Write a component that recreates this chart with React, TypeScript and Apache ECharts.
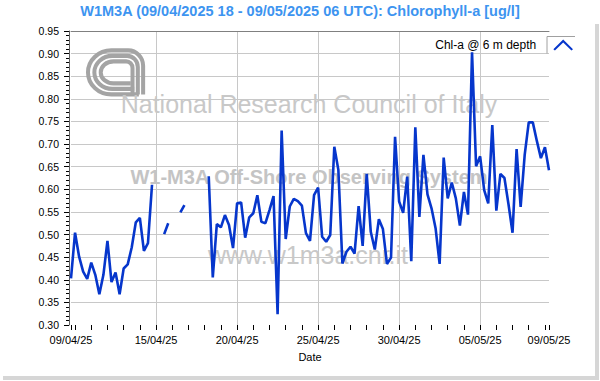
import React, { useEffect, useRef } from 'react';
import * as echarts from 'echarts';

const TITLE = 'W1M3A (09/04/2025 18 - 09/05/2025 06 UTC): Chlorophyll-a [ug/l]';
const SERIES_NAME = 'Chl-a @ 6 m depth';
const X_NAME = 'Date';

// Sampling: every 6 hours starting 09/04/2025 18:00 UTC
const START_UTC = Date.UTC(2025, 3, 9, 18);
const STEP_HOURS = 6;

// Chlorophyll-a values [ug/l] (null = no data)
const chlA: (number | null)[] = [
  0.403, 0.504, 0.451, 0.418, 0.402, 0.438, 0.411, 0.368, 0.411, 0.486,
  0.395, 0.416, 0.368, 0.425, 0.434, 0.472, 0.527, 0.537, 0.464, 0.481,
  0.610, null, null, 0.501, 0.525, null, null, 0.549, 0.565, null,
  null, null, null, null, 0.629, 0.405, 0.523, 0.516, 0.543, 0.521,
  0.470, 0.569, 0.571, 0.493, 0.538, 0.547, 0.587, 0.528, 0.525, 0.554,
  0.585, 0.324, 0.730, 0.490, 0.562, 0.579, 0.574, 0.564, 0.503, 0.486,
  0.587, 0.604, 0.495, 0.484, 0.499, 0.694, 0.643, 0.436, 0.462, 0.473,
  0.458, 0.563, 0.475, 0.634, 0.506, 0.467, 0.534, 0.512, 0.435, 0.449,
  0.716, 0.573, 0.548, 0.628, 0.441, 0.737, 0.539, 0.676, 0.589, 0.558,
  0.514, 0.435, 0.670, 0.580, 0.615, 0.580, 0.520, 0.594, 0.544, 0.903,
  0.651, 0.673, 0.598, 0.569, 0.742, 0.553, 0.634, 0.625, 0.567, 0.504,
  0.689, 0.561, 0.676, 0.748, 0.748, 0.707, 0.669, 0.693, 0.642,
];

// Interior labelled dates (with grid lines); the axis ends are labelled too
const xGridDates = ['15/04/25', '20/04/25', '25/04/25', '30/04/25', '05/05/25'];

const Y_MIN = 0.3;
const Y_MAX = 0.95;
const Y_STEP = 0.05;

const WATERMARK_1 = 'National Research Council of Italy';
const WATERMARK_2 = 'W1-M3A Off-Shore Observing System';
const WATERMARK_3 = 'www.w1m3a.cnr.it';

const pad = (n: number) => String(n).padStart(2, '0');
const categories = chlA.map((_, i) => {
  const d = new Date(START_UTC + i * STEP_HOURS * 3600000);
  return `${pad(d.getUTCDate())}/${pad(d.getUTCMonth() + 1)}/${String(d.getUTCFullYear()).slice(2)} ${pad(d.getUTCHours())}`;
});
const LAST = categories.length - 1;
const isMidnight = (i: number) => categories[i].endsWith(' 00');
const dayOf = (i: number) => categories[i].slice(0, 8);

const LOGO_PATH =
  'M48,44 L22,44 A22,20 0 0 1 22,4 L38,4 A14,14 0 0 1 52,18 L52,44 ' +
  'M44,39 L23,39 A17,15 0 0 1 23,9 L37,9 A10,10 0 0 1 47,19 L47,44 ' +
  'M40,34 L24,34 A12,10 0 0 1 24,14 L36,14 A6,6 0 0 1 42,20 L42,44';

let logoRegistered = false;
function registerLogo() {
  if (logoRegistered) return;
  echarts.graphic.registerShape('cnrLogo', echarts.graphic.extendPath(LOGO_PATH, {}) as any);
  logoRegistered = true;
}

const FONT = '"Liberation Sans", Arial, sans-serif';
const LINE_COLOR = '#0636cc';

export default function App() {
  const ref = useRef<HTMLDivElement>(null);

  useEffect(() => {
    if (!ref.current) return;
    registerLogo();
    const chart = echarts.init(ref.current, undefined, { renderer: 'svg' });
    chart.setOption({
      animation: false,
      backgroundColor: '#ffffff',
      textStyle: { fontFamily: FONT },
      title: {
        text: TITLE,
        left: 'center',
        top: 3,
        padding: 0,
        textStyle: { fontSize: 14.5, fontWeight: 'bold', color: '#3d94f0', fontFamily: FONT },
      },
      legend: {
        data: [SERIES_NAME],
        right: 27,
        top: 39,
        padding: 0,
        align: 'right',
        itemWidth: 24,
        itemHeight: 11,
        selectedMode: false,
        icon: 'path://M0,10 L10,0 L20,10 L18.4,11.2 L10,3 L1.6,11.2 Z',
        itemStyle: { color: LINE_COLOR },
        textStyle: { fontSize: 12, color: '#000', fontFamily: FONT, padding: [0, 10, 0, 0] },
      },
      grid: { left: 71, right: 51, top: 31, bottom: 56, containLabel: false },
      xAxis: [
        {
          type: 'category',
          data: categories,
          boundaryGap: false,
          name: X_NAME,
          nameLocation: 'middle',
          nameGap: 26,
          nameTextStyle: { fontSize: 11, color: '#000', fontFamily: FONT },
          axisLine: { show: false },
          axisTick: {
            show: true,
            length: 5,
            lineStyle: { color: '#000' },
            interval: (i: number) => i === 0 || i === LAST || isMidnight(i),
          },
          axisLabel: {
            fontSize: 11,
            color: '#000',
            margin: 9,
            fontFamily: FONT,
            interval: (i: number) =>
              i === 0 || i === LAST || (isMidnight(i) && xGridDates.includes(dayOf(i))),
            formatter: (v: string) => v.slice(0, 8),
          },
          splitLine: {
            show: true,
            lineStyle: { color: '#c8c8c8', width: 1 },
            interval: (i: number) => isMidnight(i) && xGridDates.includes(dayOf(i)),
          },
        },
        {
          type: 'category',
          data: categories,
          boundaryGap: false,
          position: 'top',
          axisLine: { show: true, lineStyle: { color: '#808080', width: 1 } },
          axisTick: { show: false },
          axisLabel: { show: false },
          splitLine: { show: false },
        },
      ],
      yAxis: {
        type: 'value',
        min: Y_MIN,
        max: Y_MAX,
        interval: Y_STEP,
        offset: 2,
        axisLine: { show: true, lineStyle: { color: '#606060' } },
        axisTick: { show: true, length: 5, lineStyle: { color: '#000' } },
        minorTick: { show: true, splitNumber: 5, length: 3, lineStyle: { color: '#000' } },
        axisLabel: {
          fontSize: 10.5,
          color: '#000',
          margin: 10,
          fontFamily: FONT,
          formatter: (v: number) => v.toFixed(2),
        },
        splitLine: { show: true, showMinLine: false, lineStyle: { color: '#c8c8c8', width: 1 } },
      },
      graphic: [
        {
          type: 'cnrLogo',
          x: 88,
          y: 46,
          scaleX: 1.06,
          scaleY: 1.1,
          silent: true,
          z: 1,
          style: { fill: 'none', stroke: '#a4a4a4', lineWidth: 3.8 },
        },
        {
          type: 'text',
          x: 309,
          y: 104,
          silent: true,
          z: 1,
          style: {
            text: WATERMARK_1,
            fill: '#c8c8c8',
            fontSize: 25,
            fontFamily: FONT,
            align: 'center',
            verticalAlign: 'middle',
          },
        },
        {
          type: 'text',
          x: 309,
          y: 177,
          silent: true,
          z: 1,
          style: {
            text: WATERMARK_2,
            fill: '#c4c4c4',
            fontSize: 20,
            fontWeight: 'bold',
            fontFamily: FONT,
            align: 'center',
            verticalAlign: 'middle',
          },
        },
        {
          type: 'text',
          x: 308,
          y: 255,
          silent: true,
          z: 1,
          style: {
            text: WATERMARK_3,
            fill: '#c8c8c8',
            fontSize: 25,
            fontFamily: FONT,
            align: 'center',
            verticalAlign: 'middle',
          },
        },
        {
          type: 'polyline',
          silent: true,
          z: 5,
          shape: { points: [[547, 53.5], [547, 36.5], [575, 36.5]] },
          style: { stroke: '#a0a0a0', lineWidth: 1, fill: 'none' },
        },
        {
          type: 'rect',
          silent: true,
          z: 5,
          shape: { x: 595, y: 24, width: 4, height: 356 },
          style: { fill: '#d6d6d6' },
        },
        {
          type: 'rect',
          silent: true,
          z: 5,
          shape: { x: 3, y: 376, width: 596, height: 4 },
          style: { fill: '#d6d6d6' },
        },
      ],
      series: [
        {
          name: SERIES_NAME,
          type: 'line',
          data: chlA,
          showSymbol: false,
          connectNulls: false,
          lineStyle: { color: LINE_COLOR, width: 2.6 },
          itemStyle: { color: LINE_COLOR },
          z: 3,
        },
      ],
    });
    return () => chart.dispose();
  }, []);

  return (
    <div
      ref={ref}
      style={{ position: 'fixed', left: 0, top: 0, width: 600, height: 381, background: '#fff' }}
    />
  );
}
